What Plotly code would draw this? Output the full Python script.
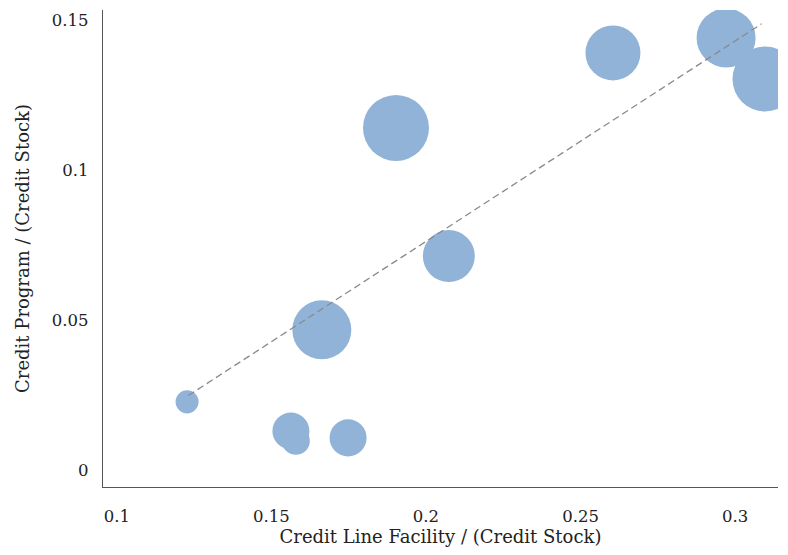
import plotly.graph_objects as go

# credit line facility / credit stock
credit_line = [0.1227, 0.1563, 0.1579, 0.1748, 0.1663, 0.1903, 0.2074, 0.2605, 0.2971, 0.3097]
# credit program / credit stock
credit_program = [0.0227, 0.0130, 0.0097, 0.0107, 0.0467, 0.1140, 0.0713, 0.1390, 0.1440, 0.1303]
# bubble weight (credit stock)
credit_stock = [5.3, 13.7, 7.8, 13.7, 34.8, 43.6, 27.0, 30.3, 34.8, 42.3]

# fitted line end points
fit_x = [0.1231, 0.3086]
fit_y = [0.0248, 0.1487]

x_ticks = [0.1, 0.15, 0.2, 0.25, 0.3]
y_ticks = [0, 0.05, 0.1, 0.15]

TICK_FONT = dict(family="DejaVu Serif", size=16.5, color="#222222")
TITLE_FONT = dict(family="DejaVu Serif", size=18, color="#222222")

fig = go.Figure()
fig.add_trace(go.Scatter(
    x=credit_line,
    y=credit_program,
    mode="markers",
    marker=dict(
        size=credit_stock,
        sizemode="area",
        sizeref=0.02,
        color="#91b3d7",
        opacity=1,
        line=dict(width=0),
    ),
    hoverinfo="x+y",
))
fig.add_trace(go.Scatter(
    x=fit_x,
    y=fit_y,
    mode="lines",
    line=dict(color="#8a8a8a", width=1.3, dash="7px,4px"),
    hoverinfo="none",
))

# the page body adds an 8px offset, so margins are shifted to compensate
fig.update_layout(
    width=788,
    height=555,
    margin=dict(l=95, r=18, t=2, b=76),
    plot_bgcolor="white",
    paper_bgcolor="white",
    showlegend=False,
    xaxis=dict(
        range=[0.0955, 0.3139],
        tickvals=x_ticks,
        ticktext=[str(v) for v in x_ticks],
        tickfont=TICK_FONT,
        showgrid=False,
        zeroline=False,
        showline=True,
        linecolor="#555555",
        linewidth=1.2,
        ticks="",
        ticklabelstandoff=14,
        automargin=False,
        title=dict(text="Credit Line Facility / (Credit Stock)", standoff=2,
                   font=TITLE_FONT),
    ),
    yaxis=dict(
        range=[-0.00567, 0.1533],
        tickvals=y_ticks,
        ticktext=[str(v) for v in y_ticks],
        tickfont=TICK_FONT,
        showgrid=False,
        zeroline=False,
        showline=True,
        linecolor="#555555",
        linewidth=1.2,
        ticks="",
        ticklabelstandoff=10,
        automargin=False,
        title=dict(text="Credit Program / (Credit Stock)", standoff=17,
                   font=TITLE_FONT),
    ),
)

fig.write_html("out.html")
